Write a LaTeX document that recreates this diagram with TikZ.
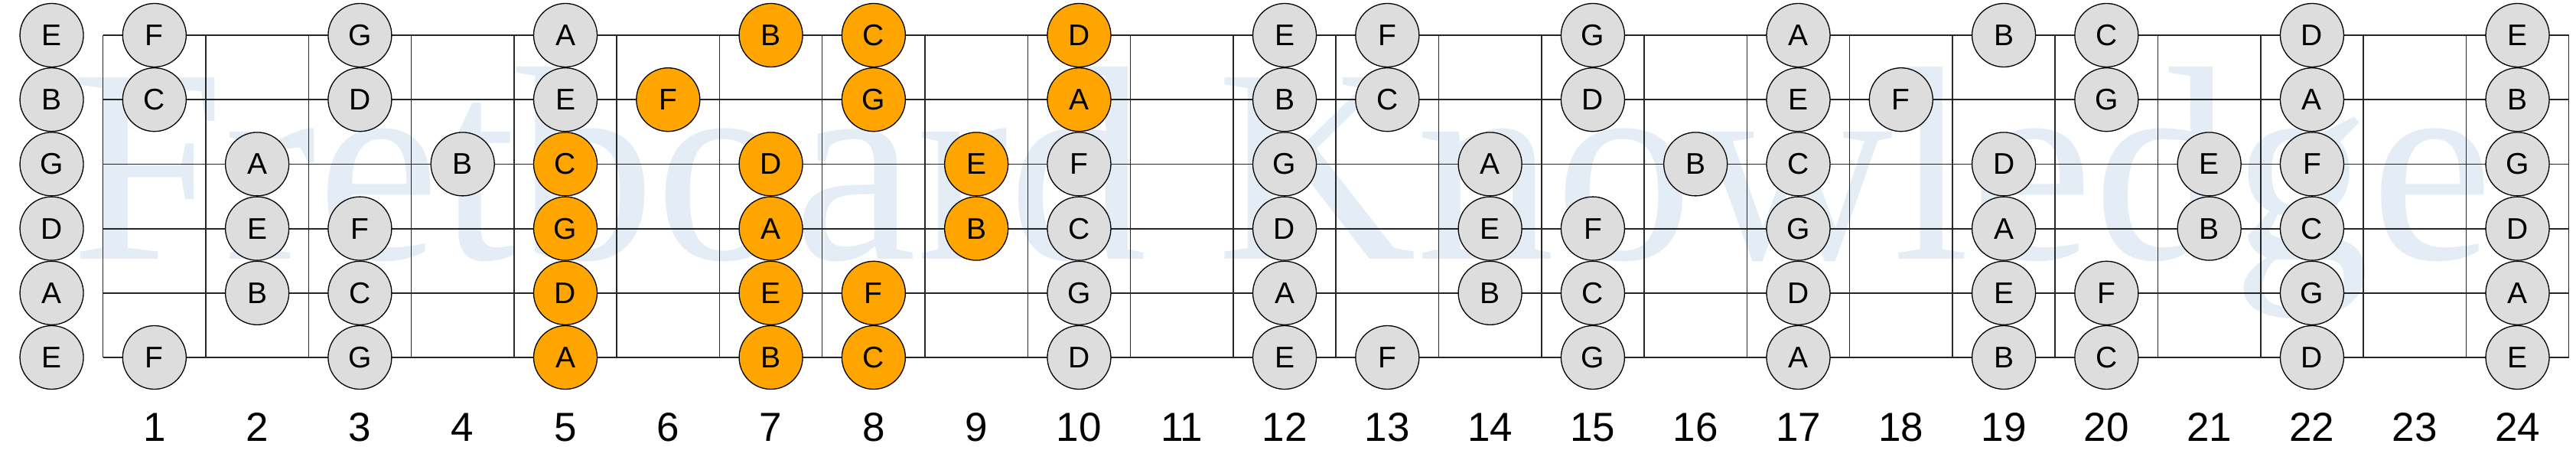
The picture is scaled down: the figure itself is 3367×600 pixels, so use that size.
\documentclass[tikz,border=0pt]{standalone}
\usepackage{fontspec}
\setmainfont{Liberation Sans}
\newfontfamily\wmfont{Liberation Serif}
\definecolor{wmblue}{RGB}{228,237,245}
\definecolor{notegray}{RGB}{221,221,221}
\definecolor{noteorange}{RGB}{255,165,0}
\begin{document}
\begin{tikzpicture}[x=1pt,y=-1pt,
  notebase/.style={circle,draw=black,line width=1.3pt,minimum size=83pt,inner sep=0pt,
    font=\fontsize{39}{39}\selectfont},
  gnote/.style={notebase,fill=notegray},
  onote/.style={notebase,fill=noteorange},
  stringline/.style={line width=1.8pt,black!85},
  fretline/.style={line width=1.5pt,black!85},
  fretnum/.style={anchor=base,inner sep=0pt,font=\fontsize{53}{53}\selectfont},
  watermark/.style={anchor=base west,inner sep=0pt,text=wmblue,font=\wmfont\fontsize{362}{362}\selectfont}
]
\useasboundingbox (0,0) rectangle (3367,600);
\node[watermark] (wm) at (92,338) {Fretboard Knowledge};
% strings
\foreach \s in {1,...,6}{
  \coordinate (sl\s) at (134.7,{46+(\s-1)*84.2});
  \coordinate (sr\s) at (3357.7,{46+(\s-1)*84.2});
  \draw[stringline] (sl\s) -- (sr\s);
}
% frets
\foreach \f in {0,...,24}{
  \coordinate (ft\f) at ({134.7+\f*134.29},46);
  \coordinate (fb\f) at ({134.7+\f*134.29},467);
  \draw[fretline] (ft\f) -- (fb\f);
}
% gray notes
\foreach \f/\s/\n in {
  0/1/E,0/2/B,0/3/G,0/4/D,0/5/A,0/6/E,
  1/1/F,1/2/C,1/6/F,
  2/3/A,2/4/E,2/5/B,
  3/1/G,3/2/D,3/4/F,3/5/C,3/6/G,
  4/3/B,
  5/1/A,5/2/E,
  10/3/F,10/4/C,10/5/G,10/6/D,
  12/1/E,12/2/B,12/3/G,12/4/D,12/5/A,12/6/E,
  13/1/F,13/2/C,13/6/F,
  14/3/A,14/4/E,14/5/B,
  15/1/G,15/2/D,15/4/F,15/5/C,15/6/G,
  16/3/B,
  17/1/A,17/2/E,17/3/C,17/4/G,17/5/D,17/6/A,
  18/2/F,
  19/1/B,19/3/D,19/4/A,19/5/E,19/6/B,
  20/1/C,20/2/G,20/5/F,20/6/C,
  21/3/E,21/4/B,
  22/1/D,22/2/A,22/3/F,22/4/C,22/5/G,22/6/D,
  24/1/E,24/2/B,24/3/G,24/4/D,24/5/A,24/6/E}{
  \node[gnote] (n\f-\s) at ({134.7+(\f-0.5)*134.29},{46+(\s-1)*84.2}) {\n};
}
% orange notes
\foreach \f/\s/\n in {
  5/3/C,5/4/G,5/5/D,5/6/A,
  6/2/F,
  7/1/B,7/3/D,7/4/A,7/5/E,7/6/B,
  8/1/C,8/2/G,8/5/F,8/6/C,
  9/3/E,9/4/B,
  10/1/D,10/2/A}{
  \node[onote] (n\f-\s) at ({134.7+(\f-0.5)*134.29},{46+(\s-1)*84.2}) {\n};
}
% fret numbers
\foreach \f in {1,...,24}{
  \node[fretnum] (num\f) at ({134.7+(\f-0.5)*134.29},576) {\f};
}
\end{tikzpicture}
\end{document}
